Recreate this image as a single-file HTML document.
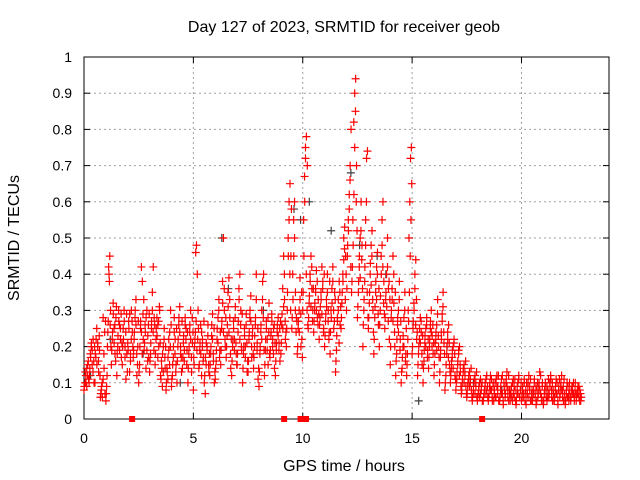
<!DOCTYPE html>
<html><head><meta charset="utf-8"><style>
body{margin:0;background:#fff}
svg{display:block;font-family:"Liberation Sans",sans-serif}
</style></head><body>
<svg id="chart" width="640" height="480" viewBox="0 0 640 480">
<text x="344" y="32" font-size="16" text-anchor="middle">Day 127 of 2023, SRMTID for receiver geob</text>
<text transform="translate(19,238) rotate(-90)" font-size="16" text-anchor="middle">SRMTID / TECUs</text>
<text x="344" y="471" font-size="16" text-anchor="middle">GPS time / hours</text>
<g id="grid"></g><g id="axes"></g><g id="marks"></g>
</svg>
<script>
const xTicks=[0,5,10,15,20];
const yTicks=[0,0.1,0.2,0.3,0.4,0.5,0.6,0.7,0.8,0.9,1];
const yTickLabels=["0","0.1","0.2","0.3","0.4","0.5","0.6","0.7","0.8","0.9","1"];
const groupStarts=[0,0.25,0.5,0.75,1,1.25,1.5,1.75,2,2.25,2.5,2.75,3,3.25,3.5,3.75,4,4.25,4.5,4.75,5,5.25,5.5,5.75,6,6.25,6.5,6.75,7,7.25,7.5,7.75,8,8.25,8.5,8.75,9,9.25,9.5,9.75,10,10.25,10.5,10.75,11,11.25,11.5,11.75,12,12.25,12.5,12.75,13,13.25,13.5,13.75,14,14.25,14.5,14.75,15,15.25,15.5,15.75,16,16.25,16.5,16.75,17,17.25,17.5,17.75,18,18.25,18.5,18.75,19,19.25,19.5,19.75,20,20.25,20.5,20.75,21,21.25,21.5,21.75,22,22.25,22.5];
const redValues=[
[.08,.10,.12,.09,.15,.11],[.12,.18,.20,.15,.22,.10],[.10,.17,.25,.20,.13,.19],[.06,.08,.10,.28,.14,.07],
[.05,.09,.20,.27,.40,.45,.30],[.15,.22,.32,.25,.18,.28],[.12,.20,.30,.26,.22,.17],[.15,.25,.30,.20,.11,.18],
[.21,.27,.13,.18,.30,.24],[.17,.22,.28,.33,.12,.20],[.10,.15,.25,.42,.38,.22],[.19,.26,.14,.30,.23,.17],
[.13,.18,.25,.35,.42,.28],[.15,.22,.28,.26,.20,.30],[.12,.16,.09,.20,.25,.14],[.08,.14,.11,.19,.24,.30],
[.09,.12,.17,.28,.22,.15],[.10,.20,.26,.31,.18,.13],[.14,.21,.16,.28,.25,.19],[.10,.18,.24,.30,.13,.21],
[.08,.15,.22,.46,.48,.40,.30],[.14,.19,.26,.12,.22,.17],[.10,.07,.15,.20,.26,.13],[.12,.18,.23,.29,.16,.10],
[.11,.16,.22,.28,.33,.19],[.15,.25,.38,.50,.30,.20],[.17,.23,.35,.39,.28,.14],[.12,.20,.27,.22,.31,.18],
[.15,.24,.36,.40,.30,.19],[.10,.18,.25,.20,.29,.13],[.13,.22,.28,.34,.17,.25],[.14,.20,.26,.40,.21,.11],
[.09,.18,.24,.30,.38,.40],[.12,.19,.27,.22,.15,.32],[.17,.23,.29,.20,.25,.14],[.12,.19,.24,.28,.21,.16],
[.18,.26,.36,.45,.33,.22],[.20,.30,.50,.60,.65,.45],[.25,.40,.55,.60,.35,.28],[.18,.25,.30,.39,.20,.22],
[.30,.55,.67,.75,.78,.70],[.25,.32,.40,.45,.36,.30],[.24,.30,.36,.41,.28,.33],[.22,.28,.35,.42,.38,.25],
[.20,.27,.33,.40,.30,.24],[.18,.30,.36,.42,.25,.35],[.13,.19,.28,.33,.38,.26],[.25,.32,.40,.50,.53,.45],
[.30,.45,.55,.62,.70,.80],[.38,.55,.82,.90,.94,.70],[.28,.35,.42,.50,.60,.48],[.20,.30,.38,.55,.72,.74],
[.25,.32,.40,.48,.52,.30],[.18,.28,.35,.42,.46,.26],[.20,.30,.45,.55,.60,.38],[.25,.33,.40,.50,.36,.22],
[.15,.28,.36,.45,.32,.20],[.12,.18,.26,.30,.38,.22],[.10,.14,.20,.28,.35,.18],[.12,.18,.30,.50,.60,.72,.75],
[.18,.25,.32,.40,.44,.22],[.12,.18,.22,.28,.24,.15],[.10,.16,.21,.25,.28,.19],[.14,.20,.25,.30,.23,.18],
[.12,.18,.22,.26,.33,.20],[.10,.17,.24,.29,.35,.21],[.08,.12,.18,.22,.26,.15],[.10,.14,.17,.20,.22,.12],
[.08,.11,.15,.19,.20,.13],[.07,.10,.13,.15,.12,.09],[.06,.09,.11,.13,.10,.08],[.05,.07,.10,.12,.09,.06],
[.06,.08,.10,.07,.09,.05],[.05,.07,.09,.11,.08,.06],[.06,.09,.12,.08,.05,.10],[.07,.10,.06,.12,.09,.05],
[.05,.08,.11,.07,.04,.09],[.06,.10,.13,.08,.05,.07],[.07,.09,.05,.11,.06,.08],[.04,.07,.10,.12,.06,.08],
[.05,.08,.06,.10,.07,.04],[.06,.09,.12,.08,.05,.07],[.05,.07,.10,.06,.04,.08],[.06,.09,.13,.07,.05,.10],
[.04,.07,.09,.06,.05,.08],[.06,.10,.12,.08,.05,.07],[.05,.08,.11,.07,.04,.09],[.06,.09,.12,.08,.05,.07],
[.04,.07,.10,.06,.05,.08],[.05,.08,.09,.07,.06,.10],[.05,.07,.09,.06,.08,.05]
];
const redValuesB=[
[.09,.13,.10,.14,.12,.16,.10],[.14,.17,.21,.19,.13,.16,.20],[.18,.22,.15,.21,.16,.23,.12],[.07,.09,.06,.11,.18,.24,.27],
[.07,.12,.24,.42,.38,.26,.20],[.19,.24,.29,.21,.26,.16,.31],[.18,.23,.27,.19,.25,.29,.21],[.20,.22,.27,.17,.24,.29,.13],
[.19,.25,.29,.16,.22,.27,.20],[.19,.24,.30,.26,.18,.15,.27],[.13,.20,.27,.24,.18,.29,.33],[.21,.24,.28,.19,.16,.26,.29],
[.16,.21,.27,.30,.24,.19,.26],[.18,.25,.23,.17,.27,.31,.21],[.11,.14,.18,.13,.22,.17,.20],[.10,.13,.17,.22,.15,.20,.26],
[.11,.15,.20,.24,.18,.13,.25],[.16,.22,.28,.24,.20,.17,.27],[.17,.23,.19,.26,.22,.15,.24],[.14,.20,.26,.22,.17,.28,.24],
[.17,.20,.24,.27,.19,.22,.25],[.15,.21,.18,.24,.20,.16,.27],[.12,.17,.21,.19,.23,.15,.18],[.15,.20,.26,.22,.18,.25,.13],
[.14,.19,.25,.21,.30,.17,.24],[.19,.27,.32,.24,.36,.22,.28],[.20,.26,.31,.24,.33,.18,.22],[.16,.22,.25,.19,.28,.21,.15],
[.18,.27,.33,.22,.26,.20,.29],[.14,.20,.23,.17,.26,.21,.16],[.16,.24,.30,.27,.20,.23,.18],[.17,.23,.28,.33,.19,.25,.14],
[.13,.20,.26,.22,.33,.28,.19],[.15,.22,.25,.19,.28,.24,.18],[.19,.24,.27,.22,.18,.26,.21],[.16,.21,.26,.23,.19,.25,.27],
[.21,.29,.25,.31,.40,.27,.24],[.25,.35,.45,.55,.40,.30,.58],[.28,.33,.45,.50,.30,.24,.27],[.20,.27,.24,.33,.29,.35,.17],
[.35,.45,.60,.72,.40,.30,.26],[.28,.34,.38,.31,.42,.27,.36],[.27,.32,.35,.30,.38,.26,.29],[.26,.31,.33,.29,.36,.24,.40],
[.23,.29,.31,.35,.27,.22,.38],[.24,.28,.32,.38,.30,.27,.33],[.16,.23,.27,.30,.21,.35,.31],[.28,.35,.38,.44,.47,.33,.40],
[.36,.48,.52,.58,.66,.42,.35],[.42,.48,.62,.75,.85,.60,.52],[.31,.38,.45,.39,.52,.44,.36],[.26,.33,.42,.48,.60,.35,.28],
[.28,.35,.43,.37,.45,.33,.24],[.22,.31,.38,.33,.40,.29,.36],[.26,.34,.40,.48,.42,.32,.29],[.28,.35,.31,.42,.27,.38,.33],
[.20,.30,.33,.27,.40,.24,.35],[.16,.22,.28,.24,.33,.19,.27],[.13,.17,.23,.20,.30,.16,.25],[.15,.22,.27,.35,.45,.55,.65],
[.20,.27,.30,.36,.26,.33,.24],[.15,.20,.25,.21,.27,.18,.23],[.14,.19,.23,.20,.26,.17,.22],[.17,.22,.27,.24,.20,.26,.21],
[.15,.21,.24,.19,.29,.23,.17],[.13,.19,.22,.27,.31,.24,.18],[.10,.15,.20,.24,.17,.21,.13],[.12,.16,.19,.14,.21,.18,.11],
[.10,.13,.16,.18,.12,.15,.09],[.08,.11,.14,.10,.13,.16,.07],[.07,.10,.12,.09,.11,.14,.06],[.06,.08,.11,.07,.10,.13,.05],
[.07,.09,.06,.11,.08,.10,.05],[.06,.08,.10,.07,.12,.09,.05],[.07,.10,.08,.11,.06,.09,.05],[.08,.06,.11,.09,.07,.12,.05],
[.06,.09,.07,.12,.05,.10,.08],[.07,.11,.09,.06,.12,.08,.05],[.08,.06,.10,.07,.09,.11,.05],[.05,.09,.07,.11,.06,.08,.10],
[.06,.09,.07,.11,.05,.08,.10],[.07,.10,.06,.09,.11,.05,.08],[.06,.08,.11,.07,.09,.05,.10],[.07,.10,.08,.12,.06,.09,.05],
[.05,.08,.10,.07,.09,.06,.11],[.07,.09,.11,.06,.10,.08,.05],[.06,.09,.07,.10,.05,.08,.11],[.07,.10,.08,.06,.09,.11,.05],
[.05,.08,.06,.09,.07,.10,.06],[.06,.09,.07,.10,.05,.08,.07],[.06,.08,.07,.09,.05,.07,.06]
];
const greyTimes=[0.3,1.2,2.7,4.4,6.3,6.6,8.2,9.6,9.9,10.3,11.3,12.2,12.6,13.4,13.8,15.3,16.6,17.8,19.1,21.5];
const greyValues=[0.12,0.22,0.18,0.10,0.50,0.36,0.30,0.58,0.55,0.60,0.52,0.68,0.48,0.45,0.40,0.05,0.20,0.10,0.08,0.06];
const flagTimes=[2.2,9.15,9.9,10.15,18.2];

const X0=84,X1=609,Y0=419,Y1=57,XMAX=24;
const xs=t=>X0+t/XMAX*(X1-X0);
const ys=v=>Y0-v*(Y0-Y1);
const NS="http://www.w3.org/2000/svg";
function mk(tag,attrs,parent){const e=document.createElementNS(NS,tag);for(const k in attrs)e.setAttribute(k,attrs[k]);parent.appendChild(e);return e;}
const grid=document.getElementById('grid'),axes=document.getElementById('axes'),marks=document.getElementById('marks');
yTicks.forEach((v,i)=>{
  const y=ys(v);
  if(v>0&&v<1){const g=mk('line',{x1:X0,x2:X1,y1:y,y2:y,stroke:'#a0a0a0','stroke-dasharray':'2,3'},grid);
  
  }
  mk('line',{x1:X0,x2:X0+6,y1:y,y2:y,stroke:'#000'},axes);
  mk('line',{x1:X1,x2:X1-6,y1:y,y2:y,stroke:'#000'},axes);
  const t=mk('text',{x:72,y:y+5,'font-size':14,'text-anchor':'end'},axes);
  t.textContent=yTickLabels[i];
  
  
});
xTicks.forEach(v=>{
  const x=xs(v);
  if(v>0){const g=mk('line',{x1:x,x2:x,y1:Y1,y2:Y0,stroke:'#a0a0a0','stroke-dasharray':'2,3'},grid);
  
  }
  mk('line',{x1:x,x2:x,y1:Y0,y2:Y0-6,stroke:'#000'},axes);
  mk('line',{x1:x,x2:x,y1:Y1,y2:Y1+6,stroke:'#000'},axes);
  const t=mk('text',{x:x,y:443,'font-size':14,'text-anchor':'middle'},axes);
  t.textContent=String(v);
  
  
});
const frame=mk('rect',{x:X0,y:Y1,width:X1-X0,height:Y0-Y1,fill:'none',stroke:'#000'},axes);


function plus(t,v,color,name){
  const x=xs(t),y=ys(v);
  const p=mk('path',{d:`M${x-4},${y}h8M${x},${y-4}v8`,stroke:color,'stroke-width':1.2,fill:'none'},marks);
  
  
}
greyTimes.forEach((t,i)=>plus(t,greyValues[i],'#404040','grey-point'));
function drawGroups(arr,offset){
  groupStarts.forEach((s,g)=>{
    const vals=arr[g]||[];
    vals.forEach((v,j)=>plus(s+offset+j*0.25/vals.length,v,'#ff0000','red-point'));
  });
}
drawGroups(redValues,0);
drawGroups(redValuesB,0.018);
flagTimes.forEach(t=>{
  const r=mk('rect',{x:xs(t)-3,y:Y0-3,width:6,height:6,fill:'#ff0000'},marks);
  
  
});
</script>
</body></html>
